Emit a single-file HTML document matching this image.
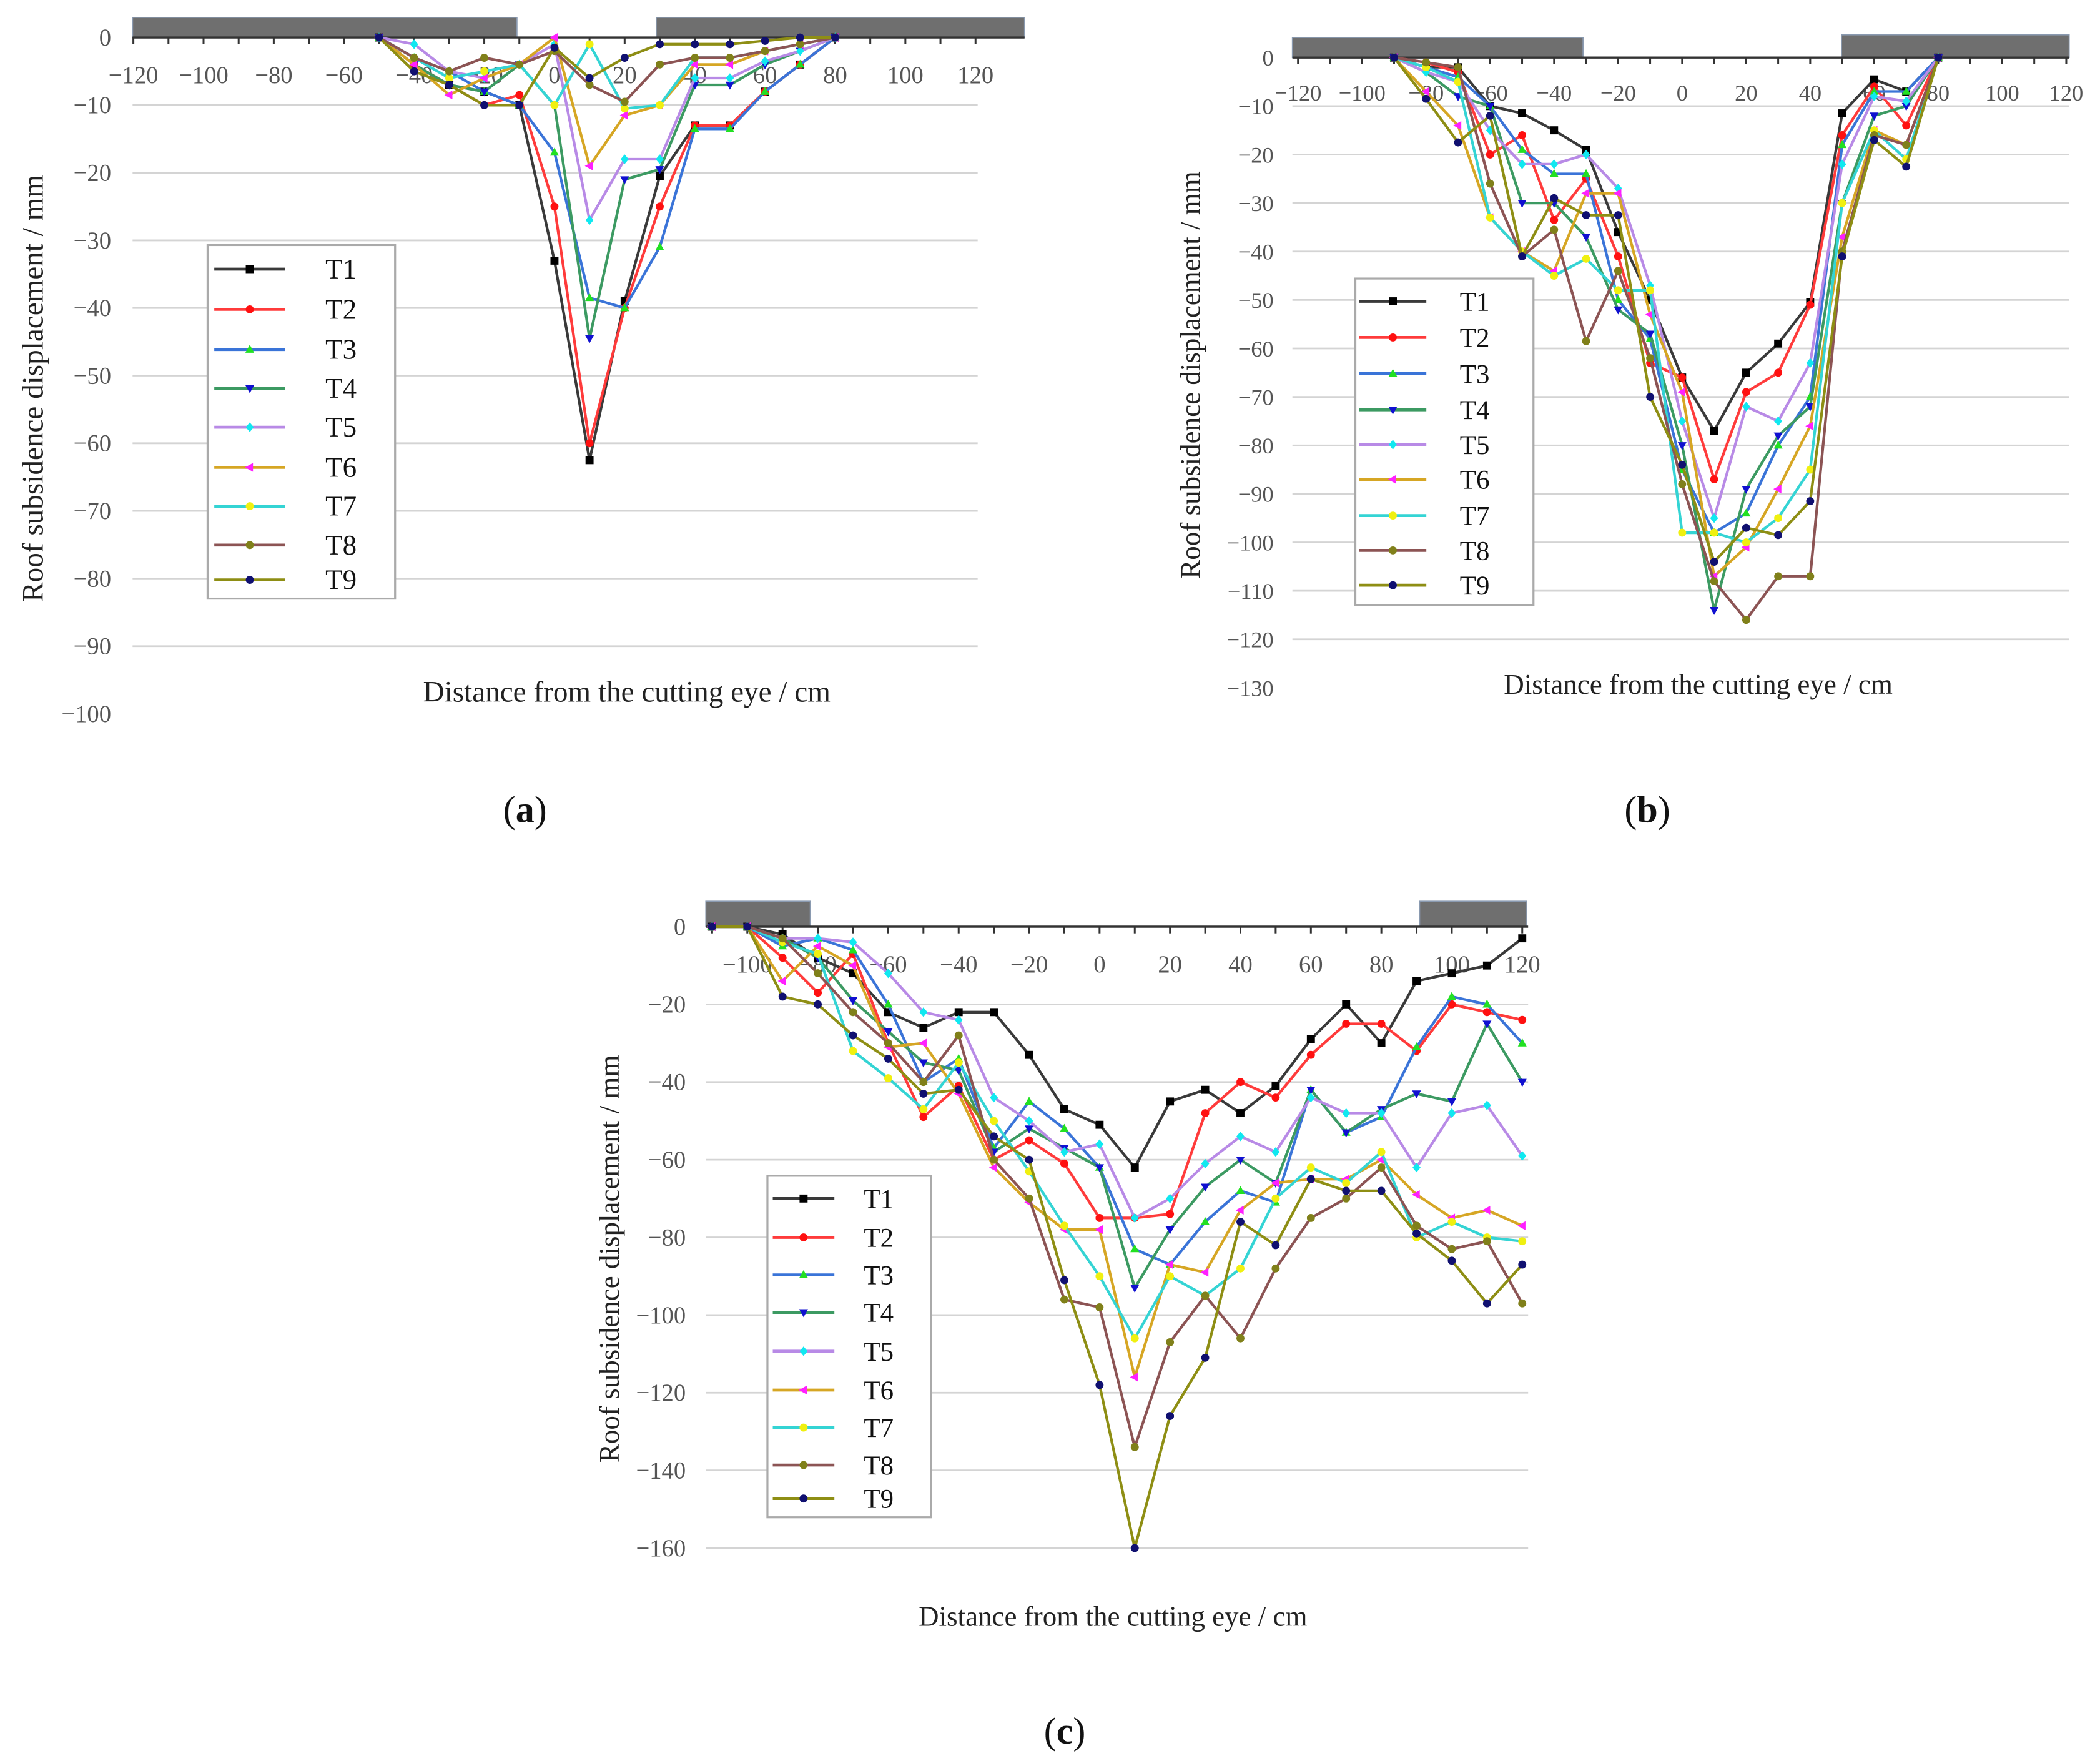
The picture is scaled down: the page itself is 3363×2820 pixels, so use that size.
<!DOCTYPE html>
<html><head><meta charset="utf-8">
<style>
html,body{margin:0;padding:0;background:#fff;}
svg{display:block;}
text{font-family:"Liberation Serif",serif;}
</style></head>
<body>
<svg id="fig" width="3363" height="2820" viewBox="0 0 1568 1315" preserveAspectRatio="none" xmlns="http://www.w3.org/2000/svg"></svg>
<script>
// ---------- Panel (a) data ----------
const xsA = [-50,-40,-30,-20,-10,0,10,20,30,40,50,60,70,80];
const a_T1 = [0,-4,-7,-8,-10,-33,-62.5,-39,-20.5,-13,-13,-8,-4,0];
const a_T2 = [0,-4,-7,-10,-8.5,-25,-60,-40,-25,-13,-13,-8,-4,0];
const a_T3 = [0,-3,-5,-8,-10,-17,-38.5,-40,-31,-13.5,-13.5,-8,-4,0];
const a_T4 = [0,-4,-7,-8,-4,-10,-44.5,-21,-19.5,-7,-7,-4,-2,0];
const a_T5 = [0,-1,-5,-6,-4,-1,-27,-18,-18,-6,-6,-3.5,-2,0];
const a_T6 = [0,-4,-8.5,-6,-4,0,-19,-11.5,-10,-4,-4,-2,-1,0];
const a_T7 = [0,-3,-6,-5,-4,-10,-1,-10.5,-10,-3,-3,-2,-1,0];
const a_T8 = [0,-3,-5,-3,-4,-2,-7,-9.5,-4,-3,-3,-2,-1,0];
const a_T9 = [0,-5,-7,-10,-10,-1.5,-6,-3,-1,-1,-1,-0.5,0,0];
const a_xticks = [-120,-100,-80,-60,-40,-20,0,20,40,60,80,100,120];
const a_yticks = [0,-10,-20,-30,-40,-50,-60,-70,-80,-90,-100];

// ---------- Panel (b) data ----------
const xsB = [-90,-80,-70,-60,-50,-40,-30,-20,-10,0,10,20,30,40,50,60,70,80];
const b_T1 = [0,-2,-2,-10,-11.5,-15,-19,-36,-50,-66,-77,-65,-59,-50.5,-11.5,-4.5,-7,0];
const b_T2 = [0,-1,-3,-20,-16,-33.5,-25,-41,-63,-66,-87,-69,-65,-51,-16,-6,-14,0];
const b_T3 = [0,-2,-4,-10,-19,-24,-24,-50,-58,-85,-98,-94,-80,-70,-18,-7,-7,0];
const b_T4 = [0,-3,-8,-10,-30,-30,-37,-52,-57,-80,-114,-89,-78,-72,-30,-12,-10,0];
const b_T5 = [0,-3,-5,-15,-22,-22,-20,-27,-47,-75,-95,-72,-75,-63,-22,-8,-9,0];
const b_T6 = [0,-7,-14,-33,-40,-44,-28,-28,-53,-69,-107,-101,-89,-76,-37,-15,-18,0];
const b_T7 = [0,-2,-5,-33,-40,-45,-41.5,-48,-48,-98,-98,-100,-95,-85,-30,-15,-21,0];
const b_T8 = [0,-1,-2,-26,-41,-35.5,-58.5,-44,-62,-88,-108,-116,-107,-107,-40,-16,-18,0];
const b_T9 = [0,-8.5,-17.5,-12,-41,-29,-32.5,-32.5,-70,-84,-104,-97,-98.5,-91.5,-41,-17,-22.5,0];
const b_xticks = [-120,-100,-80,-60,-40,-20,0,20,40,60,80,100,120];
const b_yticks = [0,-10,-20,-30,-40,-50,-60,-70,-80,-90,-100,-110,-120,-130];

// ---------- Panel (c) data ----------
const xsC = [-110,-100,-90,-80,-70,-60,-50,-40,-30,-20,-10,0,10,20,30,40,50,60,70,80,90,100,110,120];
const c_T1 = [0,0,-2,-8,-12,-22,-26,-22,-22,-33,-47,-51,-62,-45,-42,-48,-41,-29,-20,-30,-14,-12,-10,-3];
const c_T2 = [0,0,-8,-17,-7,-30,-49,-41,-60,-55,-61,-75,-75,-74,-48,-40,-44,-33,-25,-25,-32,-20,-22,-24];
const c_T3 = [0,0,-5,-3,-6,-20,-40,-34,-57,-45,-52,-62,-83,-87,-76,-68,-71,-42,-53,-49,-31,-18,-20,-30];
const c_T4 = [0,0,-3,-8,-19,-27,-35,-37,-58,-52,-57,-62,-93,-78,-67,-60,-66,-42,-53,-47,-43,-45,-25,-40];
const c_T5 = [0,0,-3,-3,-4,-12,-22,-24,-44,-50,-58,-56,-75,-70,-61,-54,-58,-44,-48,-48,-62,-48,-46,-59];
const c_T6 = [0,0,-14,-5,-10,-31,-30,-43,-62,-71,-78,-78,-116,-87,-89,-73,-66,-65,-65,-60,-69,-75,-73,-77];
const c_T7 = [0,0,-4,-7,-32,-39,-47,-35,-50,-63,-77,-90,-106,-90,-95,-88,-70,-62,-66,-58,-80,-76,-80,-81];
const c_T8 = [0,0,-3,-12,-22,-30,-40,-28,-60,-70,-96,-98,-134,-107,-95,-106,-88,-75,-70,-62,-77,-83,-81,-97];
const c_T9 = [0,0,-18,-20,-28,-34,-43,-42,-54,-60,-91,-118,-160,-126,-111,-76,-82,-65,-68,-68,-79,-86,-97,-87];
const c_xticks = [-100,-80,-60,-40,-20,0,20,40,60,80,100,120];
const c_yticks = [0,-20,-40,-60,-80,-100,-120,-140,-160];

const seriesNames = ["T1","T2","T3","T4","T5","T6","T7","T8","T9"];

const NS = "http://www.w3.org/2000/svg";
const svg = document.getElementById("fig");
function mk(tag, attrs, parent){
  const e = document.createElementNS(NS, tag);
  for (const k in attrs) e.setAttribute(k, attrs[k]);
  (parent||svg).appendChild(e);
  return e;
}
const styles = [
  {line:"#3a3a3a", mk:"#000000", shape:"square"},
  {line:"#ff3b3b", mk:"#ff1010", shape:"circle"},
  {line:"#3a74d8", mk:"#22e022", shape:"up"},
  {line:"#3c9a62", mk:"#1010d0", shape:"down"},
  {line:"#b88ae6", mk:"#10e8f0", shape:"diamond"},
  {line:"#d6a624", mk:"#ff20ff", shape:"left"},
  {line:"#34d4d4", mk:"#f0f010", shape:"circle"},
  {line:"#8c5454", mk:"#80801a", shape:"circle"},
  {line:"#8e8e14", mk:"#101070", shape:"circle"}
];
function marker(g, shape, x, y, c, r){
  let el;
  if (shape==="square") el = mk("rect",{x:x-r,y:y-r,width:2*r,height:2*r,fill:c},g);
  else if (shape==="circle") el = mk("circle",{cx:x,cy:y,r:r,fill:c},g);
  else if (shape==="up") el = mk("polygon",{points:`${x},${y-r*1.2} ${x-r*1.1},${y+r*0.8} ${x+r*1.1},${y+r*0.8}`,fill:c},g);
  else if (shape==="down") el = mk("polygon",{points:`${x},${y+r*1.2} ${x-r*1.1},${y-r*0.8} ${x+r*1.1},${y-r*0.8}`,fill:c},g);
  else if (shape==="diamond") el = mk("polygon",{points:`${x},${y-r*1.2} ${x+r},${y} ${x},${y+r*1.2} ${x-r},${y}`,fill:c},g);
  else el = mk("polygon",{points:`${x-r*1.2},${y} ${x+r*0.8},${y-r*1.1} ${x+r*0.8},${y+r*1.1}`,fill:c},g);
  
  
  return el;
}

function panel(cfg){
  const g = mk("g",{});
  
  
  const X = v => cfg.x0 + v*cfg.kx;
  const Y = v => cfg.y0 - v*cfg.ky;
  cfg.yticks.forEach(t=>{
    if (t!==0 && t>=cfg.gridMin){
      const l = mk("line",{x1:cfg.gx1,x2:cfg.gx2,y1:Y(t),y2:Y(t),stroke:"#d4d4d4","stroke-width":1.3},g);
      
      
    }
    const tx = mk("text",{x:cfg.ylabX,y:Y(t)+6,"text-anchor":"end","font-size":cfg.fs,fill:"#555"},g);
    tx.textContent = t===0?"0":"\u2212"+Math.abs(t);
    
    
  });
  cfg.bars.forEach(b=>{
    const r = mk("rect",{x:b[0],y:Y(0)-b[2],width:b[1]-b[0],height:b[2],fill:"#6f6f6f",stroke:"#8a9ab0","stroke-width":0.8},g);
    
    
  });
  const ax = mk("line",{x1:cfg.gx1,x2:cfg.axEnd,y1:Y(0),y2:Y(0),stroke:"#333","stroke-width":1.6},g);
  
  
  for (let v=cfg.tickMin; v<=cfg.tickMax; v+=10){
    const tk = mk("line",{x1:X(v),x2:X(v),y1:Y(0),y2:Y(0)+5,stroke:"#333","stroke-width":1.4},g);
    
    
  }
  cfg.xticks.forEach(t=>{
    const tx = mk("text",{x:X(t),y:cfg.xlabY,"text-anchor":"middle","font-size":cfg.fs,fill:"#555"},g);
    tx.textContent = t<0?"\u2212"+Math.abs(t):String(t);
    
    
  });
  cfg.series.forEach((s,i)=>{
    const st = styles[i];
    const sg = mk("g",{},g);
    
    
    const pts = s.map((v,j)=>X(cfg.xs[j]).toFixed(1)+","+Y(v).toFixed(1)).join(" ");
    const pl = mk("polyline",{points:pts,fill:"none",stroke:st.line,"stroke-width":2,"stroke-linejoin":"round"},sg);
    
    
    s.forEach((v,j)=>marker(sg, st.shape, X(cfg.xs[j]), Y(v), st.mk, 3));
  });
  const yt = mk("text",{x:0,y:0,"text-anchor":"middle","font-size":cfg.tfs,fill:"#222",transform:`translate(${cfg.ytX},${cfg.ytY}) rotate(-90)`},g);
  yt.textContent = "Roof subsidence displacement / mm";
  
  
  const xt = mk("text",{x:cfg.xtX,y:cfg.xtY,"text-anchor":"middle","font-size":cfg.tfs,fill:"#222"},g);
  xt.textContent = "Distance from the cutting eye / cm";
  
  
  const L = cfg.leg;
  const lg = mk("g",{},g);
  
  
  const box = mk("rect",{x:L.x,y:L.y,width:L.w,height:L.h,fill:"#fff",stroke:"#aaa","stroke-width":1.5},lg);
  
  
  seriesNames.forEach((n,i)=>{
    const yy = L.rows[i];
    const e = mk("g",{},lg);
    
    
    mk("line",{x1:L.lx1,x2:L.lx2,y1:yy,y2:yy,stroke:styles[i].line,"stroke-width":2.2},e);
    marker(e, styles[i].shape, (L.lx1+L.lx2)/2, yy, styles[i].mk, 3);
    const t = mk("text",{x:L.tx,y:yy+7,"font-size":L.fs,fill:"#111"},e);
    t.textContent = n;
  });
  const cap = mk("text",{x:cfg.capX,y:cfg.capY,"text-anchor":"middle","font-size":28,fill:"#111"},g);
  cap.innerHTML = '(<tspan font-weight="bold">'+cfg.cap+'</tspan>)';
  
  
}

panel({name:"panel-a", xs:xsA, series:[a_T1,a_T2,a_T3,a_T4,a_T5,a_T6,a_T7,a_T8,a_T9],
  x0:414, kx:2.62, y0:28, ky:5.05, gx1:99, gx2:730, axEnd:765, gridMin:-90,
  yticks:a_yticks, xticks:a_xticks, tickMin:-120, tickMax:120, ylabX:83, xlabY:62, fs:18, tfs:22,
  bars:[[99,386,15],[490,765,15]],
  ytX:32, ytY:290, xtX:468, xtY:524,
  leg:{x:155,y:183,w:140,h:264,rows:[201,231,261,290,319,349,378,407,433],lx1:160,lx2:213,tx:243,fs:21},
  capX:392, capY:614, cap:"a"});

panel({name:"panel-b", xs:xsB, series:[b_T1,b_T2,b_T3,b_T4,b_T5,b_T6,b_T7,b_T8,b_T9],
  x0:1256, kx:2.39, y0:43, ky:3.62, gx1:965, gx2:1545, axEnd:1545, gridMin:-120,
  yticks:b_yticks, xticks:b_xticks, tickMin:-120, tickMax:120, ylabX:951, xlabY:75, fs:17, tfs:21,
  bars:[[965,1182,15],[1375,1545,17]],
  ytX:896, ytY:280, xtX:1268, xtY:518,
  leg:{x:1012,y:208,w:133,h:244,rows:[225,252,279,306,332,358,385,411,437],lx1:1015,lx2:1065,tx:1090,fs:20},
  capX:1230, capY:614, cap:"b"});

panel({name:"panel-c", xs:xsC, series:[c_T1,c_T2,c_T3,c_T4,c_T5,c_T6,c_T7,c_T8,c_T9],
  x0:821, kx:2.63, y0:692, ky:2.9, gx1:527, gx2:1141, axEnd:1141, gridMin:-160,
  yticks:c_yticks, xticks:c_xticks, tickMin:-110, tickMax:120, ylabX:512, xlabY:726, fs:18, tfs:21,
  bars:[[527,605,19],[1060,1140,19]],
  ytX:462, ytY:940, xtX:831, xtY:1214,
  leg:{x:573,y:878,w:122,h:255,rows:[895,924,952,980,1009,1038,1066,1094,1119],lx1:577,lx2:623,tx:645,fs:20},
  capX:795, capY:1302, cap:"c"});
</script>
</body></html>
